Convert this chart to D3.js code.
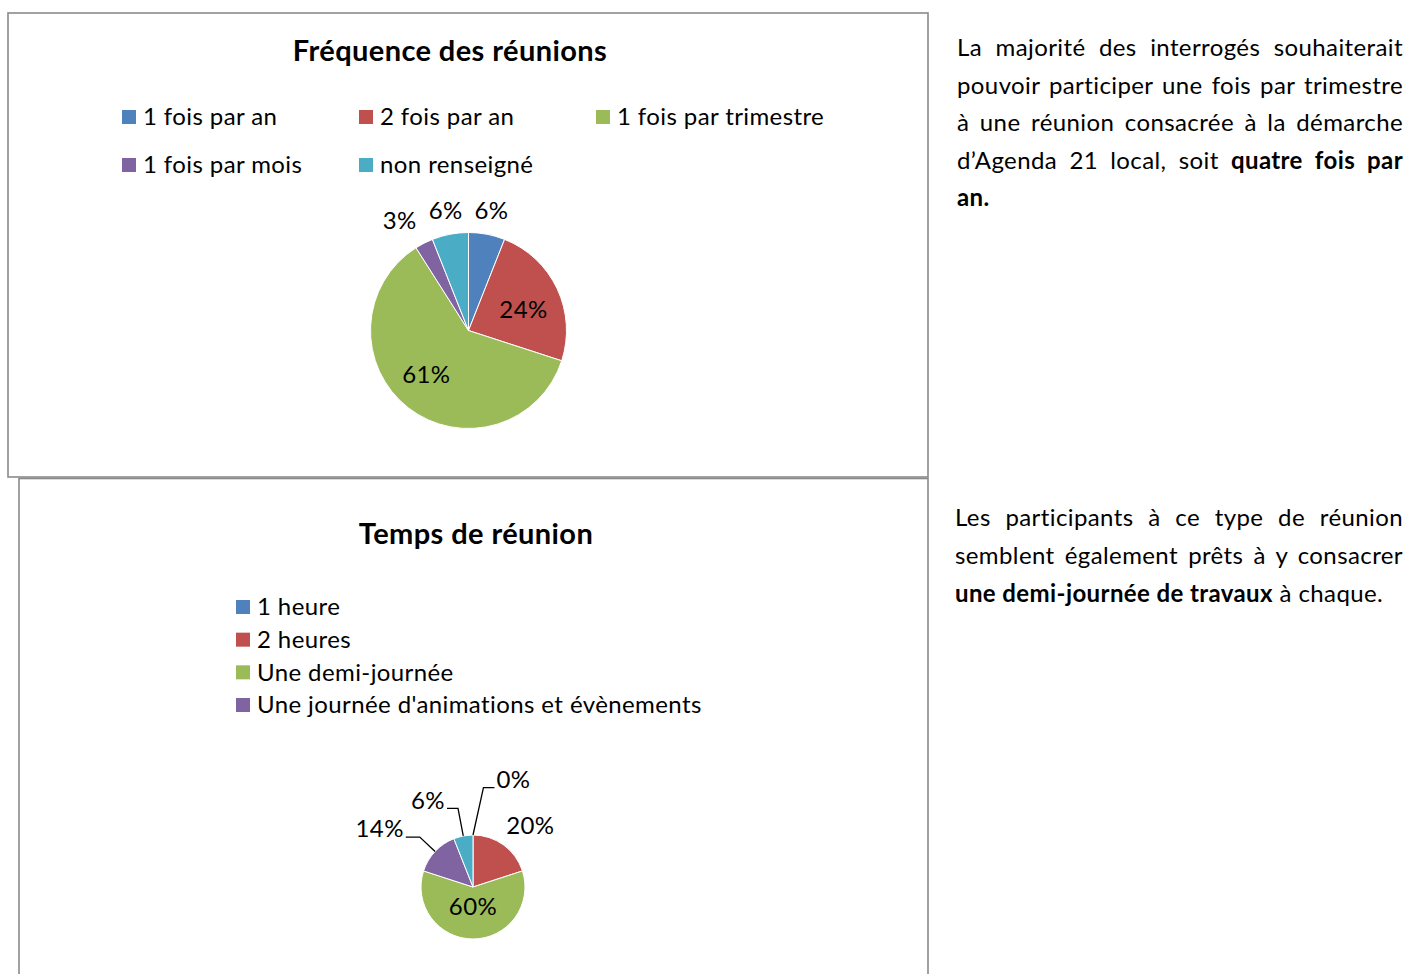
<!DOCTYPE html>
<html>
<head>
<meta charset="utf-8">
<script src="https://cdn.jsdelivr.net/npm/d3@7"></script>
<style>
  body { margin: 0; background: #fff; font-family: Lato, "Open Sans", sans-serif; }
  #page { position: relative; width: 1408px; height: 974px; overflow: hidden; }
  #page svg { position: absolute; left: 0; top: 0; }
  svg text { letter-spacing: 0.4px; }
  .para { position: absolute; font-size: 24px; letter-spacing: 0.4px; color: #000; }
  .para div { text-align: justify; text-align-last: justify; white-space: nowrap; }
  .para div.last { text-align-last: left; }
</style>
</head>
<body>
<div id="page"></div>
<script>
// Chart 1 data
const freqLabels = ["1 fois par an", "2 fois par an", "1 fois par trimestre", "1 fois par mois", "non renseigné"];
const freqValues = [6, 24, 61, 3, 6];

// Chart 2 data (the 5th slice is not in the legend)
const timeLabels = ["1 heure", "2 heures", "Une demi-journée", "Une journée d'animations et évènements", "non renseigné"];
const timeValues = [0, 20, 60, 14, 6];
const timeLegendCount = 4;

const colors = ["#4F81BD", "#C0504D", "#9BBB59", "#8064A2", "#4BACC6"];

// Side text, one entry per line, segments [text, bold]
const text1 = [
  [["La majorité des interrogés souhaiterait", false]],
  [["pouvoir participer une fois par trimestre", false]],
  [["à une réunion consacrée à la démarche", false]],
  [["d’Agenda 21 local, soit ", false], ["quatre fois par", true]],
  [["an.", true]]
];
const text2 = [
  [["Les participants à ce type de réunion", false]],
  [["semblent également prêts à y consacrer", false]],
  [["une demi-journée de travaux", true], [" à chaque.", false]]
];

const W = 1408, H = 974;
const FS = "24px";
const page = d3.select("#page");
const svg = page.append("svg").attr("width", W).attr("height", H);

// frames
svg.append("rect").attr("x", 8).attr("y", 13).attr("width", 920).attr("height", 464)
  .attr("fill", "#fff").attr("stroke", "#8a8a8a").attr("stroke-width", 1.6);
svg.append("rect").attr("x", 19).attr("y", 478.5).attr("width", 909).attr("height", 520)
  .attr("fill", "#fff").attr("stroke", "#8a8a8a").attr("stroke-width", 1.6);

function title(x, y, t) {
  svg.append("text").attr("x", x).attr("y", y).attr("text-anchor", "middle")
    .attr("dy", "0.35em").style("font-size", "29px").style("font-weight", "bold").text(t);
}
title(450, 51, "Fréquence des réunions");
title(476, 534, "Temps de réunion");

// Legend 1: grid of 3 columns
const leg1 = svg.append("g");
const leg1Col = d3.scaleOrdinal().domain([0, 1, 2]).range([122, 359, 596]);
const leg1Row = d3.scaleOrdinal().domain([0, 1]).range([117, 165]);
const items1 = leg1.selectAll("g").data(freqLabels).enter().append("g")
  .attr("transform", (d, i) => `translate(${leg1Col(i % 3)},${leg1Row(Math.floor(i / 3))})`);
items1.append("rect").attr("x", 0).attr("y", -7).attr("width", 14).attr("height", 14)
  .attr("fill", (d, i) => colors[i]);
items1.append("text").attr("x", 21).attr("dy", "0.35em").style("font-size", FS).text(d => d);

// Legend 2: vertical list
const leg2Row = d3.scalePoint().domain(d3.range(timeLegendCount)).range([607, 705]);
const items2 = svg.append("g").selectAll("g").data(timeLabels.slice(0, timeLegendCount)).enter().append("g")
  .attr("transform", (d, i) => `translate(236,${leg2Row(i)})`);
items2.append("rect").attr("x", 0).attr("y", -7).attr("width", 14).attr("height", 14)
  .attr("fill", (d, i) => colors[i]);
items2.append("text").attr("x", 21).attr("dy", "0.35em").style("font-size", FS).text(d => d);

const pie = d3.pie().sort(null).value(d => d);
const deg = Math.PI / 180;

function drawPie(values, cx, cy, R, layout) {
  const g = svg.append("g").attr("transform", `translate(${cx},${cy})`);
  const arcs = pie(values);
  const arc = d3.arc().innerRadius(0).outerRadius(R);
  g.selectAll("path").data(arcs).enter().append("path")
    .attr("d", arc).attr("fill", (d, i) => colors[i])
    .attr("stroke", "#fff").attr("stroke-width", 1);

  arcs.forEach((a, i) => {
    const L = layout[i];
    const mid = (a.startAngle + a.endAngle) / 2;
    const ang = mid + (L.nudge || 0) * deg;
    const label = a.data + "%";
    if (L.leader) {
      const p0 = d3.pointRadial(mid, R);
      const p1 = d3.pointRadial(ang, L.r);
      const dir = L.side === "right" ? 1 : -1;
      const p2 = [p1[0] + dir * L.len, p1[1]];
      g.append("polyline")
        .attr("points", [p0, p1, p2].map(p => p.join(",")).join(" "))
        .attr("fill", "none").attr("stroke", "#000").attr("stroke-width", 1.3);
      g.append("text").attr("x", p2[0] + dir * 2).attr("y", p2[1] - 8)
        .attr("text-anchor", dir > 0 ? "start" : "end").attr("dy", "0.35em")
        .style("font-size", FS).text(label);
    } else {
      const p = d3.pointRadial(ang, L.r);
      g.append("text").attr("x", p[0]).attr("y", p[1]).attr("text-anchor", "middle")
        .attr("dy", "0.35em").style("font-size", FS).text(label);
    }
  });
}

drawPie(freqValues, 468.5, 330.5, 98, [
  {r: 122}, {r: 59, nudge: 4}, {r: 61, nudge: 6}, {r: 130, nudge: -5}, {r: 122}
]);
drawPie(timeValues, 473, 887, 52, [
  {leader: true, r: 100, nudge: 6, side: "right", len: 11},
  {r: 84, nudge: 7},
  {r: 20},
  {leader: true, r: 73, side: "left", len: 14},
  {leader: true, r: 80, side: "left", len: 11}
]);

// side paragraphs
function para(lines, left, top, width, lh) {
  const p = page.append("div").attr("class", "para")
    .style("left", left + "px").style("top", top + "px")
    .style("width", width + "px").style("line-height", lh + "px");
  lines.forEach((segs, i) => {
    const line = p.append("div").classed("last", i === lines.length - 1);
    segs.forEach(s => {
      line.append("span").style("font-weight", s[1] ? "bold" : "normal").text(s[0]);
    });
  });
}
para(text1, 957, 28, 446, 37.5);
para(text2, 955, 498, 448, 38);
</script>
</body>
</html>
